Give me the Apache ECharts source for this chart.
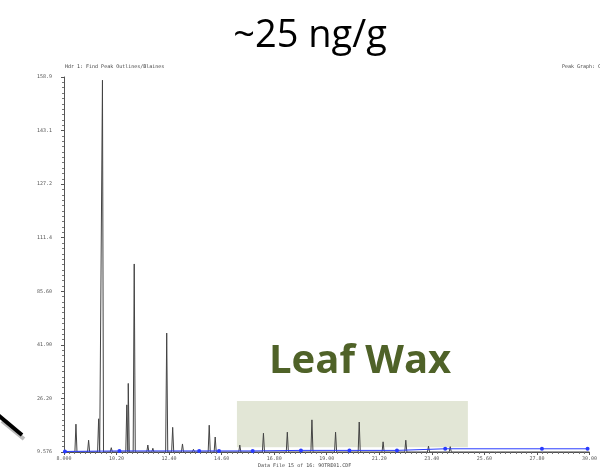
<!DOCTYPE html>
<html lang="en">
<head>
    <meta charset="UTF-8">
    <title>~25 ng/g</title>
    <script src="https://cdn.jsdelivr.net/npm/echarts@6/dist/echarts.min.js"></script>
    <style>
        html, body { margin: 0; padding: 0; background: #fff; }
        #main { width: 600px; height: 472px; }
    </style>
</head>
<body>
<div id="main"></div>
<script type="text/javascript">
    // retention time (min) and peak height (in y-axis divisions)
    var peakTimes   = [8.50, 9.03, 9.45, 9.61, 9.98, 10.63, 10.69, 10.94, 11.51, 11.72, 12.30, 12.55, 12.96, 13.42,
                       14.08, 14.33, 15.36, 16.35, 17.35, 18.38, 19.37, 20.36, 21.36, 22.31, 23.26, 24.17, 26.07];
    var peakHeights = [0.52, 0.22, 0.62, 6.94, 0.08, 0.88, 1.28, 3.51, 0.13, 0.07, 2.22, 0.46, 0.15, 0.05,
                       0.50, 0.28, 0.13, 0.35, 0.37, 0.60, 0.37, 0.56, 0.19, 0.22, 0.11, 0.10, 0.02];
    // blue baseline fit points
    var baseTimes   = [8.04, 10.32, 13.66, 14.49, 15.90, 17.92, 19.95, 21.94, 23.96, 28.01, 29.92];
    var baseHeights = [0.01, 0.02, 0.02, 0.02, 0.02, 0.03, 0.03, 0.03, 0.06, 0.06, 0.06];
    var xTickLabels = ['8.000', '10.20', '12.40', '14.60', '16.80', '19.00', '21.20', '23.40', '25.60', '27.80', '30.00'];
    var yTickLabels = ['9.576', '26.20', '41.90', '85.60', '111.4', '127.2', '143.1', '158.9'];
    var waxRange = [15.24, 24.91];   // leaf wax window, min

    var t0 = 8.0, dt = 2.2;
    function u(t) { return (t - t0) / dt; }

    var chromData = [[0, 0]];
    for (var i = 0; i < peakTimes.length; i++) {
        var c = u(peakTimes[i]);
        chromData.push([c - 0.02, 0], [c, peakHeights[i]], [c + 0.02, 0]);
    }
    chromData.push([10, 0]);

    var baseData = baseTimes.map(function (t, i) { return [u(t), baseHeights[i]]; });

    var myChart = echarts.init(document.getElementById('main'));
    var tinyFont = {fontSize: 5, color: '#555', fontFamily: 'DejaVu Sans Mono'};

    myChart.setOption({
        animation: false,
        grid: {left: 64, right: 5, top: 77, bottom: 20},
        title: {
            text: '~25 ng/g',
            left: 305, top: 12, textAlign: 'center',
            textStyle: {fontFamily: 'Open Sans', fontWeight: 'normal', fontSize: 38, color: '#000'}
        },
        graphic: [
            {type: 'text', left: 65, top: 64, style: Object.assign({text: 'Hdr 1: Find Peak Outlines/Blaines'}, tinyFont, {fill: '#444'})},
            {type: 'text', left: 562, top: 64, style: Object.assign({text: 'Peak Graph: C'}, tinyFont, {fill: '#444'})},
            {type: 'text', left: 258, top: 463, style: Object.assign({text: 'Data File 15 of 16: 9OTRE01.CDF'}, tinyFont, {fill: '#444'})},
            {type: 'text', left: 269, top: 342, style: {text: 'Leaf Wax', fontFamily: 'Open Sans', fontWeight: 'bold', fontSize: 40, fill: '#4f6228'}},
            {type: 'line', shape: {x1: 2, y1: 421, x2: 24, y2: 439}, style: {stroke: '#bbb', lineWidth: 4}},
            {type: 'line', shape: {x1: -2, y1: 415, x2: 22, y2: 435}, style: {stroke: '#000', lineWidth: 4}}
        ],
        xAxis: {
            type: 'value', min: 0, max: 10, interval: 1,
            axisLine: {lineStyle: {color: '#555', width: 1}},
            axisTick: {show: true, length: 3, lineStyle: {color: '#555'}},
            minorTick: {show: true, splitNumber: 10, length: 2, lineStyle: {color: '#777'}},
            splitLine: {show: false},
            axisLabel: Object.assign({margin: 4, formatter: function (v) { return xTickLabels[Math.round(v)]; }}, tinyFont)
        },
        yAxis: {
            type: 'value', min: 0, max: 7, interval: 1,
            axisLine: {show: true, lineStyle: {color: '#555', width: 1}},
            axisTick: {show: true, length: 3, lineStyle: {color: '#555'}},
            minorTick: {show: true, splitNumber: 10, length: 2, lineStyle: {color: '#777'}},
            splitLine: {show: false},
            axisLabel: Object.assign({margin: 12, formatter: function (v) { return yTickLabels[Math.round(v)]; }}, tinyFont)
        },
        series: [
            {
                type: 'line', data: [], silent: true,
                markArea: {
                    silent: true,
                    itemStyle: {color: 'rgba(206,214,186,0.6)'},
                    data: [[{xAxis: u(waxRange[0]), yAxis: 0.09}, {xAxis: u(waxRange[1]), yAxis: 0.95}]]
                }
            },
            {
                name: 'chromatogram', type: 'line', data: chromData,
                showSymbol: false, z: 3,
                lineStyle: {color: '#444', width: 1}
            },
            {
                name: 'baseline', type: 'line', data: baseData,
                symbol: 'circle', symbolSize: 4, z: 4,
                itemStyle: {color: '#2a3cff'},
                lineStyle: {color: '#2a3cff', width: 1}
            }
        ]
    });
</script>
</body>
</html>
